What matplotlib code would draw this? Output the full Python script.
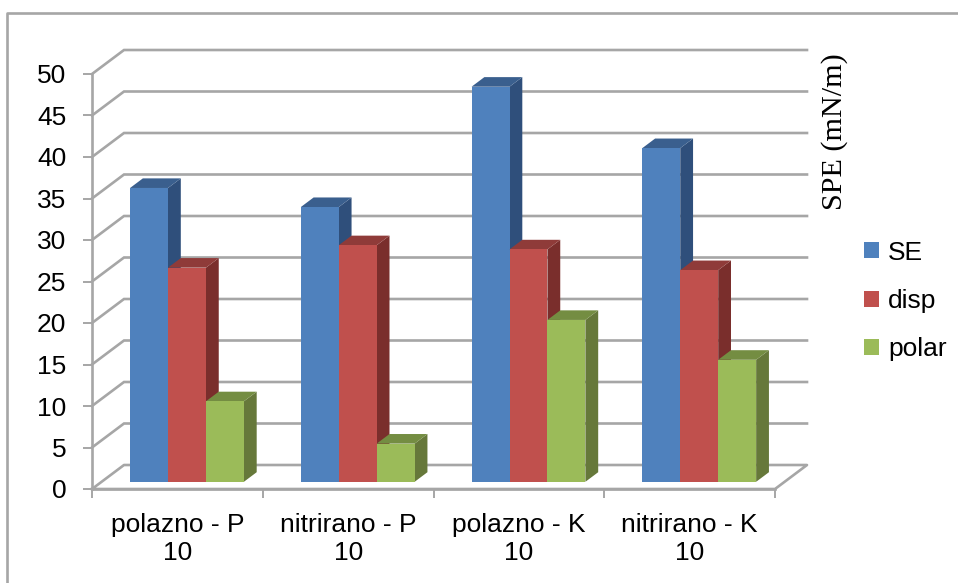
import matplotlib
matplotlib.use('Agg')
import matplotlib.pyplot as plt
from matplotlib.lines import Line2D
from matplotlib.patches import Patch, Polygon

categories = ['polazno - P\n10', 'nitrirano - P\n10', 'polazno - K\n10', 'nitrirano - K\n10']
series_names = ['SE', 'disp', 'polar']
se = [35.4, 33.1, 47.6, 40.2]
disp = [25.8, 28.5, 28.0, 25.5]
polar = [9.7, 4.6, 19.5, 14.7]
y_ticks = list(range(0, 55, 5))

front = ['#4F81BD', '#C0504D', '#9BBB59']
top = ['#3A5F8E', '#8F3B39', '#748D42']
side = ['#2F4F7B', '#7A2E2C', '#66783A']
grid_col = '#A6A6A6'

W, H = 958, 583
fig = plt.figure(figsize=(W / 100, H / 100), dpi=100)
ax = fig.add_axes([92 / W, 1 - 489 / H, (775 - 92) / W, (489 - 74) / H])
ax.set_xlim(0, 4)
ax.set_ylim(0, 50)
ax.patch.set_visible(False)

# depth of the fake 3d box, in data units (32px right, 24px up)
dx = 32 / (683 / 4)
dy = 24 / (415 / 50)


def depth(x, y, d):
    return (x + dx * d, y + dy * d)


# gridlines: diagonal on the left wall, then along the back wall
for v in y_ticks[1:]:
    ax.plot([0, dx, 4 + dx], [v, v + dy, v + dy], color=grid_col, lw=1.9,
            clip_on=False, zorder=1, solid_joinstyle='miter')

# floor
ax.plot([0, dx, 4 + dx, 4, 0], [0, dy, dy, 0, 0], color=grid_col, lw=1.9,
        clip_on=False, zorder=1)

# bars, left to right so each one covers the side of the previous
bw = 1 / 4.5
z = 2
for i in range(len(categories)):
    for j, vals in enumerate([se, disp, polar]):
        x0 = i + 0.5 - 1.5 * bw + j * bw
        x1 = x0 + bw
        v = vals[i]
        d0, d1 = 0.3, 0.7
        ax.add_patch(Polygon([depth(x1, 0, d0), depth(x1, 0, d1), depth(x1, v, d1), depth(x1, v, d0)],
                             fc=side[j], ec='none', clip_on=False, zorder=z))
        ax.add_patch(Polygon([depth(x0, v, d0), depth(x1, v, d0), depth(x1, v, d1), depth(x0, v, d1)],
                             fc=top[j], ec='none', clip_on=False, zorder=z))
        ax.add_patch(Polygon([depth(x0, 0, d0), depth(x1, 0, d0), depth(x1, v, d0), depth(x0, v, d0)],
                             fc=front[j], ec='none', clip_on=False, zorder=z + 0.5))
        z += 1

for s in ['top', 'right']:
    ax.spines[s].set_visible(False)
for s in ['left', 'bottom']:
    ax.spines[s].set_color(grid_col)
    ax.spines[s].set_linewidth(1.9)

ax.set_yticks(y_ticks)
ax.tick_params(axis='y', length=6.5, width=1.4, color=grid_col, pad=12)
ax.set_xticks(range(5))
ax.set_xticklabels([])
ax.tick_params(axis='x', which='major', length=6.5, width=1.4, color=grid_col)
ax.set_xticks([i + 0.5 for i in range(4)], minor=True)
ax.set_xticklabels(categories, minor=True, linespacing=1.2)
ax.tick_params(axis='x', which='minor', length=0, pad=17.5)

for lab in ax.get_yticklabels() + ax.get_xticklabels(minor=True):
    lab.set_family('Liberation Sans')
    lab.set_fontsize(19)

fig.text(835 / W, 1 - 132 / H, 'SPE (mN/m)', rotation=90, ha='center', va='center',
         family='Liberation Serif', fontsize=21.7)

handles = [Patch(fc=c, ec='none') for c in front]
fig.legend(handles, series_names, loc='center left', bbox_to_anchor=(864 / W, 1 - 301 / H),
           frameon=False, prop={'family': 'Liberation Sans', 'size': 19}, borderpad=0,
           borderaxespad=0, handlelength=0.56, handleheight=0.56, handletextpad=0.36,
           labelspacing=0.92)

# outer chart border, only top and left are inside the crop
fig.add_artist(Line2D([7 / W, 7 / W, 1], [0, 1 - 13 / H, 1 - 13 / H], color=grid_col, lw=1.9))

fig.savefig('out.png', dpi=100)
